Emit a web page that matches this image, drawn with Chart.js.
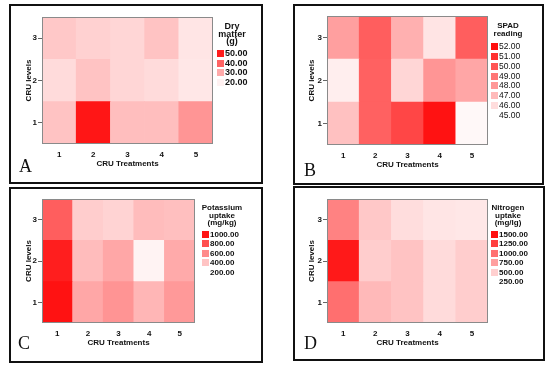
<!DOCTYPE html>
<html>
<head>
<meta charset="utf-8">
<script src="https://cdn.jsdelivr.net/npm/chart.js@4.4.0/dist/chart.umd.min.js"></script>
<style>
  body { margin: 0; background: #fff; width: 550px; height: 370px; position: relative; overflow: hidden; font-family: "Liberation Sans", Arial, sans-serif; }
  .frame { position: absolute; border: 2px solid #111; box-sizing: border-box; }
  canvas { position: absolute; }
  .letter { position: absolute; font-family: "Liberation Serif", "Times New Roman", serif; font-size: 18px; color: #111; }
  .lgTitle { position: absolute; font-weight: bold; text-align: center; line-height: 7.5px; color: #111; width: 60px; }
  .lgRow { position: absolute; color: #111; white-space: nowrap; line-height: 10px; }
  .sw { display: inline-block; width: 7px; height: 7px; margin-right: 1px; vertical-align: -1px; }
</style>
</head>
<body>
<div class="frame" style="left:9px;top:4px;width:254px;height:180px"></div>
<div class="frame" style="left:293px;top:4px;width:251px;height:181px"></div>
<div class="frame" style="left:9px;top:187px;width:254px;height:176px"></div>
<div class="frame" style="left:293px;top:186px;width:252px;height:175px"></div>

<canvas id="cA" width="205" height="172" style="left:11px;top:6px"></canvas>
<canvas id="cB" width="199" height="172" style="left:295px;top:6px"></canvas>
<canvas id="cC" width="188" height="166" style="left:11px;top:189px"></canvas>
<canvas id="cD" width="199" height="166" style="left:295px;top:189px"></canvas>

<div class="letter" style="left:19px;top:156px">A</div>
<div class="letter" style="left:304px;top:160px">B</div>
<div class="letter" style="left:18px;top:333px">C</div>
<div class="letter" style="left:304px;top:333px">D</div>

<div id="legends"></div>

<script>
// CRU treatments (x) and CRU levels (y)
const treatments = ['1', '2', '3', '4', '5'];
const levels = [1, 2, 3];

// rows: level 1, level 2, level 3
const dryMatter = [
    [26.5, 51, 27.2, 27.2, 33],
    [23.1, 26.5, 23.8, 23.1, 21.4],
    [25.8, 24.5, 23.8, 26.5, 21.7]
];
const spadReading = [
    [46.8, 49.6, 50.4, 51.9, 45.2],
    [45.5, 49.6, 46.2, 48.1, 47.6],
    [47.8, 49.7, 47.3, 45.8, 49.7]
];
const potassium = [
    [1010, 500, 565, 450, 550],
    [970, 430, 500, 240, 490],
    [750, 370, 350, 430, 420]
];
const nitrogen = [
    [1000, 613, 563, 438, 513],
    [1450, 513, 563, 438, 513],
    [900, 538, 425, 388, 375]
];

// legend tick labels
const dryTicks = [50, 40, 30, 20];
const spadTicks = [52, 51, 50, 49, 48, 47, 46, 45];
const potTicks = [1000, 800, 600, 400, 200];
const nitTicks = [1500, 1250, 1000, 750, 500, 250];

function heatColor(v, min, max) {
    let t = (v - min) / (max - min);
    t = Math.max(0, Math.min(1, t));
    const g = Math.round(255 - 240 * t);
    return 'rgb(255,' + g + ',' + g + ')';
}

const frameBox = {
    id: 'frameBox',
    afterDraw(chart) {
        const a = chart.chartArea;
        const ctx = chart.ctx;
        ctx.save();
        ctx.strokeStyle = '#8a8a8a';
        ctx.lineWidth = 1;
        ctx.strokeRect(a.left + 0.5, a.top + 0.5, a.right - a.left - 1, a.bottom - a.top - 1);
        ctx.restore();
    }
};

function makeHeat(id, values, min, max, pad, yW, xH) {
    const datasets = levels.map(function (lev, i) {
        return {
            data: treatments.map(function () { return [lev - 0.5, lev + 0.5]; }),
            backgroundColor: values[i].map(function (v) { return heatColor(v, min, max); }),
            borderWidth: 0,
            barPercentage: 1,
            categoryPercentage: 1,
            grouped: false
        };
    });
    const tickFont = { family: 'Liberation Sans', size: 8, weight: 'bold' };
    const titleFont = { family: 'Liberation Sans', size: 8, weight: 'bold' };
    new Chart(document.getElementById(id), {
        type: 'bar',
        data: { labels: treatments, datasets: datasets },
        options: {
            responsive: false,
            animation: false,
            layout: { padding: pad },
            plugins: { legend: { display: false }, tooltip: { enabled: false } },
            scales: {
                x: {
                    grid: { display: false, drawTicks: false },
                    border: { display: false },
                    ticks: { color: '#111', font: tickFont, padding: 6 },
                    title: { display: true, text: 'CRU Treatments', color: '#111', font: titleFont, padding: 0 },
                    afterFit: function (s) { s.height = xH; }
                },
                y: {
                    min: 0.5, max: 3.5,
                    afterBuildTicks: function (s) { s.ticks = levels.map(function (l) { return { value: l }; }); },
                    grid: { display: true, drawOnChartArea: false, tickLength: 4, color: '#666' },
                    border: { display: false },
                    ticks: { color: '#111', font: tickFont, padding: 1 },
                    title: { display: true, text: 'CRU levels', color: '#111', font: titleFont, padding: 0 },
                    afterFit: function (s) { s.width = yW; }
                }
            }
        },
        plugins: [frameBox]
    });
}

function makeLegend(cx, ty, titleLines, titleSize, sx, ry, step, tickList, min, max, numSize, bold) {
    const box = document.getElementById('legends');
    const t = document.createElement('div');
    t.className = 'lgTitle';
    t.style.left = (cx - 30) + 'px';
    t.style.top = (ty - 3.75) + 'px';
    t.style.fontSize = titleSize + 'px';
    t.innerHTML = titleLines.join('<br>');
    box.appendChild(t);
    tickList.forEach(function (v, i) {
        const r = document.createElement('div');
        r.className = 'lgRow';
        r.style.left = sx + 'px';
        r.style.top = (ry + i * step - 5) + 'px';
        r.style.fontSize = numSize + 'px';
        r.style.fontWeight = bold ? 'bold' : 'normal';
        const c = heatColor(v, min, max);
        r.innerHTML = '<span class="sw" style="background:' + c + '"></span>' + v.toFixed(2);
        box.appendChild(r);
    });
}

makeHeat('cA', dryMatter, 18, 52, { top: 11, right: 3, left: 13, bottom: 9 }, 18, 25);
makeHeat('cB', spadReading, 45, 52, { top: 10, right: 6, left: 12, bottom: 8 }, 20, 25);
makeHeat('cC', potassium, 200, 1020, { top: 10, right: 4, left: 13, bottom: 7 }, 18, 25);
makeHeat('cD', nitrogen, 250, 1500, { top: 10, right: 6, left: 12, bottom: 7 }, 20, 25);

makeLegend(232, 27, ['Dry', 'matter', '(g)'], 9, 217, 53, 9.7, dryTicks, 18, 52, 9, true);
makeLegend(508, 26, ['SPAD', 'reading'], 8, 491, 46, 9.86, spadTicks, 45, 52, 8.5, false);
makeLegend(222, 208, ['Potassium', 'uptake', '(mg/kg)'], 8, 202, 235, 9.4, potTicks, 200, 1020, 8, true);
makeLegend(508, 208, ['Nitrogen', 'uptake', '(mg/lg)'], 8, 491, 235, 9.4, nitTicks, 250, 1500, 8, true);
</script>
</body>
</html>
